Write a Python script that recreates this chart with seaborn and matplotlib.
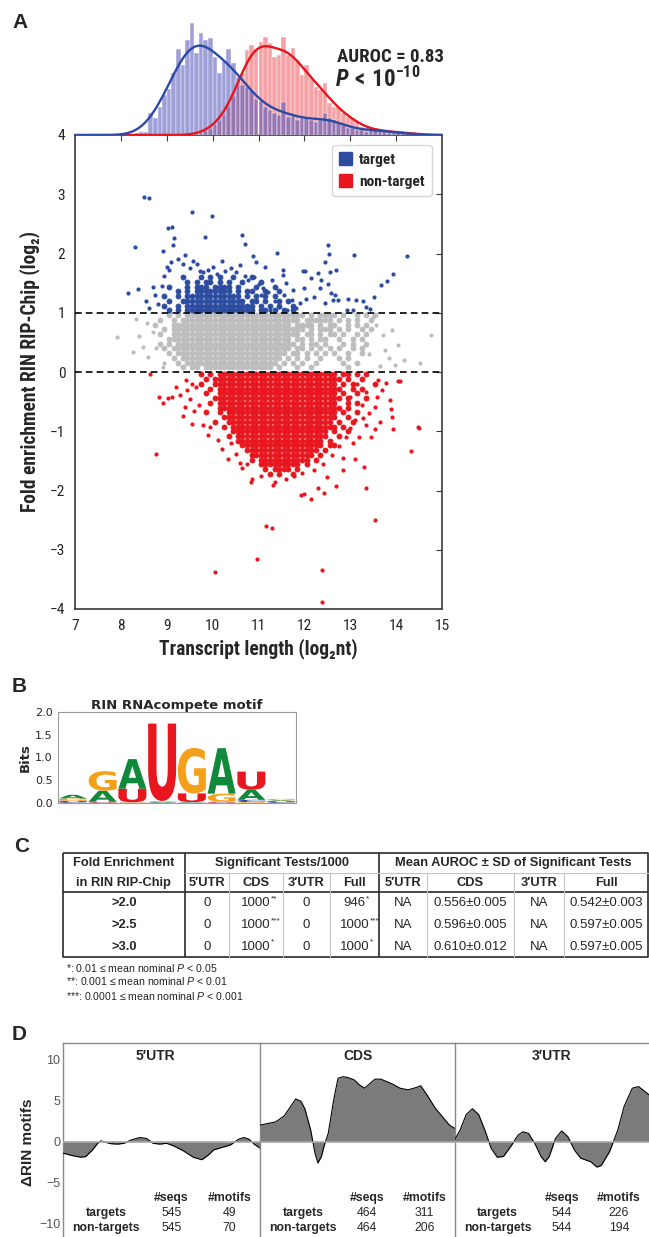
import numpy as np
import matplotlib
matplotlib.use("Agg")
import matplotlib.pyplot as plt
import seaborn as sns
from matplotlib import font_manager
from matplotlib.textpath import TextPath
from matplotlib.patches import PathPatch, Patch
from matplotlib.font_manager import FontProperties
from matplotlib.transforms import Affine2D

# ====================== DATA ======================
# ---- Panel A: marginal histograms (bin centres step 0.1, estimated counts) ----
target_bin_start, target_bin_end = 8.35, 14.25
target_counts = [2, 3, 3, 22, 17, 28, 40, 46, 62, 86, 70, 95, 112, 82, 102, 95, 97, 78, 62, 74,
                 86, 72, 58, 50, 48, 45, 36, 34, 28, 25, 22, 20, 33, 18, 19, 15, 17, 18, 15, 13,
                 15, 22, 17, 15, 12, 10, 7, 7, 5, 5, 3, 5, 7, 6, 3, 2, 3, 2, 2, 3]
nontarget_bin_start, nontarget_bin_end = 9.65, 14.45
nontarget_counts = [1, 2, 4, 6, 10, 14, 20, 28, 38, 50, 62, 85, 90, 86, 93, 98, 92, 78, 80, 98,
                    80, 87, 75, 60, 70, 57, 48, 45, 52, 32, 28, 28, 22, 18, 17, 13, 8, 7, 5, 6,
                    4, 5, 3, 3, 2, 3, 2, 2, 1]

# ---- Panel A: scatter, dense cores read as occupancy maps ('#' = points present) ----
RED_DENSE = [  # x from 9.65 step 0.1 ; y from -0.04 step -0.08
    ".#.#.##### ########## ########## #.##.#.#..",
    "..#.###### ########## ########## ##.#..#...",
    ".#..###### ########## ########## #.#.#....#",
    "...#.##### ########## ########## ##..#.#...",
    "..#..##### ########## ########## #.#..#....",
    "....###### ########## ########## ##.#...#..",
    "...#.##### ########## ########## #..#.#....",
    ".....##### ########## ########## ##.#......",
    "..#..#.### ########## ########## #.#..#....",
    "......#### ########## ########## #..#......",
    "....#..### ########## ########## .#..#.....",
    "......#.## ########## ########## #.#.......",
    "........## ########## #########. #..#......",
    ".......#.# ########## #########. .#........",
    ".........# ########## ########.# ..........",
    ".......... ########## ########.# #.........",
    ".......... .######### #######.#. ..........",
    ".......... ..######## ######.#.. ..........",
    ".......... ..#.###### #####.#... ..........",
    ".......... ....###### ###.#..... ..........",
    ".......... .....#.### #.#....... ..........",
    ".......... ......#.#. .#........ ..........",
]
GRAY_DENSE = [  # x from 8.65 step 0.1 ; y from 0.96 step -0.08
    "....#.#.## ########## ########## ####.#.### #.#..#.#.#",
    "..#..#.### ########## ########## ###.###### .#.#.#..#.",
    ".#...##### ########## ########## #.####.#.# #..#.#.#..",
    "...#.##### ########## ########## ####.#.### .#.#..#.#.",
    "..#..##### ########## ########## ###.##.#.# #.#..#.#..",
    "....###### ########## ########## #.##.#.##. .#..#.#...",
    "..#.#.#### ########## ########## ##.#.##.#. ..#.#..#..",
    "...#.##### ########## ########## #.##.#.#.# .#..#.#...",
    "....#.#### ########## ########## .##.#.#.#. #..#..#...",
    ".....#.### ########## #########. #.#.#..#.. .#.#......",
    "......#.## ########## ########.# .#.#..#... ..#..#....",
    ".......#.# #.######## #######.#. ..#..#.... ...#......",
]
BLUE_DENSE = [  # x from 8.85 step 0.1 ; y from 1.04 step +0.08
    "..#.#.#### ########## #.##.#.#.#",
    ".#..#.#### ########## #.#.#.#..#",
    "..#..##### #########. ##.#..#.#.",
    ".#..#.#### ########.# .#.#.#....",
    "....#.#.## ######.#.# #..#..#...",
    "..#...#.## #.####.#.. .#...#....",
    "......#.#. ##.#.#..#. ..#.......",
    ".....#...# .#.#..#... #.........",
]
# ---- Panel A: individual (sparse) points ----
target_x = [8.50, 8.61, 9.54, 9.98, 8.30, 9.03, 9.12, 9.16, 9.14, 8.91, 9.83, 10.63, 10.71, 10.87, 11.40,
            12.52, 12.54, 12.45, 13.08, 14.23, 13.93, 13.80, 13.68, 13.51, 8.16, 8.37, 11.96, 12.02,
            11.53, 11.53, 11.60, 12.68, 12.55, 12.30, 12.15, 12.37, 12.51, 12.59, 12.66, 12.74, 12.95,
            13.13, 13.28, 13.35, 13.42, 13.06, 12.92, 12.44, 12.22, 12.04, 11.90, 11.75, 11.72, 12.00,
            12.33, 12.62, 8.70, 8.75, 8.80, 8.90, 8.95, 9.00, 9.05, 9.10, 9.25, 9.35, 9.40, 9.50, 9.58,
            9.65, 9.72, 9.80, 9.90, 10.00, 10.10, 10.20, 10.28, 10.40, 10.50, 10.60, 10.70, 10.78, 10.90,
            11.00, 11.10, 11.20, 11.30, 11.35, 11.45, 11.55, 11.62, 11.82, 11.25, 11.15, 10.95, 11.05,
            8.62, 8.55]
target_y = [2.96, 2.94, 2.70, 2.64, 2.11, 2.43, 2.44, 2.27, 2.14, 2.04, 2.28, 2.32, 2.16, 1.96, 2.01,
            2.15, 2.00, 1.86, 1.97, 1.96, 1.65, 1.54, 1.47, 1.27, 1.33, 1.40, 1.71, 1.71,
            1.72, 1.64, 1.50, 1.72, 1.69, 1.67, 1.58, 1.55, 1.49, 1.33, 1.30, 1.21, 1.24,
            1.21, 1.19, 1.10, 1.07, 1.05, 1.05, 1.16, 1.27, 1.24, 1.16, 1.38, 1.21, 1.41,
            1.41, 1.21, 1.43, 1.30, 1.15, 1.45, 1.62, 1.78, 1.72, 1.85, 1.90, 1.82, 1.97, 1.75, 1.88,
            1.82, 1.70, 1.68, 1.72, 1.78, 1.65, 1.88, 1.70, 1.75, 1.68, 1.80, 1.62, 1.55, 1.60,
            1.48, 1.42, 1.35, 1.55, 1.20, 1.10, 1.30, 1.05, 1.08, 1.05, 1.78, 1.85, 1.30,
            1.08, 1.20]
middle_x = [7.92, 14.77, 14.51, 14.17, 13.85, 13.97, 13.90, 13.72, 13.75, 13.57, 13.50, 8.27, 8.32, 8.56,
            8.49, 8.70, 8.77, 8.92, 8.95, 8.40, 8.60, 14.05, 13.65, 13.40]
middle_y = [0.59, 0.62, 0.16, 0.20, 0.23, 0.12, 0.71, 0.62, 0.37, 0.79, 0.93, 0.34, 0.89, 0.82,
            0.43, 0.68, 0.40, 0.09, 0.15, 0.60, 0.25, 0.45, 0.10, 0.30]
nontarget_x = [8.76, 10.05, 10.96, 11.17, 11.30, 12.38, 12.38, 13.53, 13.34, 13.30, 14.32, 14.49, 13.93,
               13.53, 13.34, 13.46, 13.20, 13.10, 12.84, 12.70, 12.42, 12.15, 11.93, 12.00, 12.29, 12.50,
               11.32, 11.36, 10.83, 10.86, 10.33, 10.59, 10.12, 9.90, 9.79, 9.95,
               8.64, 8.83, 8.92, 9.03, 9.11, 9.35, 9.39, 9.28, 9.21, 9.43, 9.54, 9.64, 13.61, 13.79,
               14.04, 13.86, 13.58, 13.53, 13.90, 14.48, 13.35, 13.28, 13.10, 13.00,
               9.50, 9.55, 9.60, 9.70, 9.45, 10.20, 10.40, 10.50, 10.65, 10.75, 11.05, 11.60, 11.78,
               11.95, 12.20, 12.40, 12.60, 12.75, 12.90, 13.00, 12.95, 13.15, 13.25, 13.05, 12.85,
               13.70, 13.88, 13.40, 13.65, 14.08]
nontarget_y = [-1.38, -3.37, -3.15, -2.60, -2.63, -3.34, -3.88, -2.49, -1.95, -1.60, -1.33, -0.94, -0.96,
               -0.97, -0.90, -1.09, -1.09, -1.46, -1.65, -1.92, -2.04, -2.14, -2.07, -2.06, -1.96, -1.78,
               -1.91, -1.85, -1.85, -1.80, -1.46, -1.53, -1.15, -1.06, -0.89, -0.93,
               -0.04, -0.42, -0.53, -0.44, -0.42, -0.75, -0.59, -0.39, -0.25, -0.14, -0.87, -0.25, -0.14, -0.19,
               -0.16, -0.47, -0.42, -0.59, -0.76, -0.92, -0.33, -0.78, -0.81, -0.42,
               -0.45, -0.20, -0.65, -0.55, -0.30, -1.30, -1.20, -1.38, -1.62, -1.55, -1.75, -1.80, -1.76,
               -1.70, -1.66, -1.55, -1.40, -1.25, -1.10, -0.95, -0.60, -0.20, -0.55, -1.20, -1.45,
               -0.30, -0.62, -0.70, -0.85, -0.15]
auroc_text = "AUROC = 0.83"

# ---- Panel B: motif letter stacks (bottom -> top), bits ----
motif_stacks = [
    [("C", 0.02), ("U", 0.03), ("G", 0.05), ("A", 0.08)],
    [("C", 0.01), ("U", 0.02), ("A", 0.24), ("G", 0.43)],
    [("C", 0.005), ("G", 0.01), ("U", 0.30), ("A", 0.65)],
    [("C", 0.01), ("A", 0.015), ("G", 0.02), ("U", 1.70)],
    [("C", 0.01), ("A", 0.01), ("U", 0.19), ("G", 1.00)],
    [("C", 0.01), ("U", 0.015), ("G", 0.18), ("A", 1.00)],
    [("G", 0.02), ("C", 0.05), ("A", 0.22), ("U", 0.40)],
    [("C", 0.02), ("U", 0.02), ("A", 0.02), ("G", 0.03)],
]
letter_colors = {"A": "#10893b", "C": "#20409e", "G": "#f5a01a", "U": "#e8161e"}

# ---- Panel C: table ----
row_labels = [">2.0", ">2.5", ">3.0"]
sub_headers = ["5\u2032UTR", "CDS", "3\u2032UTR", "Full", "5\u2032UTR", "CDS", "3\u2032UTR", "Full"]
sig_tests = [["0", "1000", "0", "946"], ["0", "1000", "0", "1000"], ["0", "1000", "0", "1000"]]
sig_marks = [["", "**", "", "*"], ["", "***", "", "***"], ["", "*", "", "*"]]
auroc_vals = [["NA", "0.556\u00b10.005", "NA", "0.542\u00b10.003"],
              ["NA", "0.596\u00b10.005", "NA", "0.597\u00b10.005"],
              ["NA", "0.610\u00b10.012", "NA", "0.597\u00b10.005"]]
footnotes = ["*: 0.01 \u2264 mean nominal $P$ < 0.05",
             "**: 0.001 \u2264 mean nominal $P$ < 0.01",
             "***: 0.0001 \u2264 mean nominal $P$ < 0.001"]

# ---- Panel D: delta RIN motifs along relative position (%) ----
region_names = ["5\u2032UTR", "CDS", "3\u2032UTR"]
utr5_pos = [0, 4.8, 9, 11.6, 15, 17.6, 19.3, 21.8, 24.4, 27.8, 31, 34.6, 38.9, 42.3, 45.7, 49.1, 52.6,
            56, 61, 66.2, 70.5, 73.9, 76.5, 80.7, 85, 89.2, 91.8, 94.4, 97, 100]
utr5_val = [-1.4, -1.7, -1.9, -1.8, -1.0, -0.2, 0.1, -0.1, -0.25, -0.3, -0.2, 0.2, 0.5, 0.4, -0.2, -0.3,
            -0.2, -0.5, -1.1, -1.9, -2.2, -1.6, -1.0, -0.7, -0.4, 0.3, 0.5, 0.3, -0.3, -0.8]
cds_pos = [0, 3.8, 8, 12.3, 15.5, 18.3, 21, 23, 26, 28.2, 29.7, 31.5, 33, 35, 37.8, 40, 42.5, 45, 48.4,
           51, 53.7, 56.5, 59, 62, 65, 68, 71.8, 76, 80.3, 82.4, 85.6, 89.8, 94, 97.2, 100]
cds_val = [2.0, 2.2, 2.4, 3.1, 4.2, 5.2, 4.9, 4.0, 1.4, -1.4, -2.6, -1.8, -0.4, 1.0, 5.1, 7.7, 7.9, 7.8,
           7.5, 6.9, 6.5, 7.1, 7.6, 7.6, 7.3, 7.0, 6.5, 6.3, 6.6, 6.8, 5.7, 4.1, 2.9, 2.0, 1.6]
utr3_pos = [0, 2.6, 5.8, 9, 12.2, 15.4, 18.6, 21.8, 25, 29.3, 32.5, 35.1, 37.9, 41.1, 44.3, 46.5, 48.6,
            51.8, 55, 58.2, 61.5, 64.7, 70, 73.2, 75.4, 79.7, 83.9, 87.2, 91.4, 94.6, 97.9, 100]
utr3_val = [0.3, 1.4, 3.3, 4.0, 3.3, 1.4, -0.8, -1.9, -1.8, -0.4, 0.8, 1.2, 1.0, -0.2, -1.8, -2.45, -1.8,
            0.4, 1.3, 0.6, -1.0, -2.0, -2.45, -3.1, -2.9, -1.2, 1.4, 4.3, 6.5, 6.7, 6.1, 5.7]
n_seqs_targets = [545, 464, 544]
n_seqs_nontargets = [545, 464, 544]
n_motifs_targets = [49, 311, 226]
n_motifs_nontargets = [70, 206, 194]

# ====================== STYLE ======================
sns.set_style("white")
_names = {f.name for f in font_manager.fontManager.ttflist}
SANS = "Liberation Sans" if "Liberation Sans" in _names else "DejaVu Sans"
NARROW, NSCALE = SANS, 0.82
for cand, sc in (("Liberation Sans Narrow", 1.0), ("Roboto Condensed", 0.97),
                 ("DejaVu Sans Condensed", 0.85)):
    if cand in _names:
        NARROW, NSCALE = cand, sc
        break
plt.rcParams["font.family"] = [SANS, "DejaVu Sans"]
plt.rcParams["mathtext.fontset"] = "custom"
plt.rcParams["mathtext.rm"] = SANS
plt.rcParams["mathtext.it"] = SANS + ":italic"
plt.rcParams["mathtext.bf"] = NARROW + ":bold"
plt.rcParams["mathtext.bfit"] = NARROW + ":italic:bold"

BLUE = "#2c4c9f"
RED = "#e8161e"
GREY = "#bdbdbd"
HIST_BLUE = "#5252ba"
HIST_RED = "#e8161e"
SPINE = "#3a3a3a"
NFAM = [NARROW, SANS, "DejaVu Sans"]

W, H = 649, 1237
fig = plt.figure(figsize=(W / 100, H / 100), dpi=100)


def rect(l, t, r, b):
    return [l / W, 1 - b / H, (r - l) / W, (b - t) / H]


def occupancy(rows, x0, y0, dx, dy):
    xs, ys = [], []
    for i, row in enumerate(rows):
        for j, ch in enumerate(row.replace(" ", "")):
            if ch == "#":
                xs.append(x0 + j * dx)
                ys.append(y0 + i * dy)
    return xs, ys


# ====================== PANEL A ======================
AL, AR, AT, AB = 75, 442, 135, 609
ax = fig.add_axes(rect(AL, AT, AR, AB))
gx, gy = occupancy(GRAY_DENSE, 8.65, 0.96, 0.1, -0.08)
bx, by = occupancy(BLUE_DENSE, 8.85, 1.04, 0.1, 0.08)
rx, ry = occupancy(RED_DENSE, 9.65, -0.04, 0.1, -0.08)
dense_kw = dict(s=13, linewidth=0.6, legend=False, ax=ax)
sparse_kw = dict(s=9, linewidth=0, legend=False, ax=ax)
sns.scatterplot(x=gx, y=gy, color=GREY, edgecolor=GREY, **dense_kw)
sns.scatterplot(x=middle_x, y=middle_y, color=GREY, **sparse_kw)
sns.scatterplot(x=bx, y=by, color=BLUE, edgecolor=BLUE, **dense_kw)
sns.scatterplot(x=target_x, y=target_y, color=BLUE, **sparse_kw)
sns.scatterplot(x=rx, y=ry, color=RED, edgecolor=RED, **dense_kw)
sns.scatterplot(x=nontarget_x, y=nontarget_y, color=RED, **sparse_kw)
for yv in (1, 0):
    ax.axhline(yv, color="black", lw=1.2, ls=(0, (4, 2.5)), zorder=6)
ax.set_xlim(7, 15)
ax.set_ylim(-4, 4)
ax.set_xticks(range(7, 16))
ax.set_yticks(range(-4, 5))
ax.tick_params(direction="out", length=4, width=1, color=SPINE, labelsize=11.5 * NSCALE, pad=3)
for lbl in ax.get_xticklabels() + ax.get_yticklabels():
    lbl.set_fontfamily(NFAM)
for s in ax.spines.values():
    s.set_color(SPINE)
    s.set_linewidth(1.2)
sec_t = ax.secondary_xaxis("top")
sec_t.set_xticks(range(8, 15))
sec_t.tick_params(direction="in", length=4, labeltop=False, color=SPINE)
sec_t.spines["top"].set_visible(False)
sec_r = ax.secondary_yaxis("right")
sec_r.set_yticks(range(-3, 4))
sec_r.tick_params(direction="in", length=4, labelright=False, color=SPINE)
sec_r.spines["right"].set_visible(False)
lab_fp = FontProperties(family=NFAM, weight="bold", size=14.5 * NSCALE)
ax.set_xlabel("Transcript length (log\u2082nt)", fontproperties=lab_fp)
ax.set_ylabel("Fold enrichment RIN RIP-Chip (log\u2082)", fontproperties=lab_fp)
ax.xaxis.set_label_coords(0.5, -(638 - AB) / (AB - AT))
ax.yaxis.set_label_coords(-(AL - 40) / (AR - AL), 0.5)
leg = ax.legend(handles=[Patch(color=BLUE, label="target"), Patch(color=RED, label="non-target")],
                loc="upper right", bbox_to_anchor=(0.98, 0.985), frameon=True, fancybox=True,
                edgecolor="#cccccc", prop=FontProperties(family=NFAM, weight="bold", size=11.5 * NSCALE),
                handlelength=0.85, handleheight=0.85, handletextpad=0.45, borderpad=0.45,
                labelspacing=0.5, borderaxespad=0.2)
leg.get_frame().set_linewidth(1.0)

# marginal histograms
axh = fig.add_axes(rect(AL, 18, AR, AT))
t_centres = np.round(np.arange(target_bin_start, target_bin_end + 0.01, 0.1), 2)
n_centres = np.round(np.arange(nontarget_bin_start, nontarget_bin_end + 0.01, 0.1), 2)
sns.histplot(x=n_centres, weights=nontarget_counts, binwidth=0.1,
             binrange=(nontarget_bin_start - 0.05, nontarget_bin_end + 0.05),
             color=HIST_RED, alpha=0.40, edgecolor="white", linewidth=0.3, kde=True,
             kde_kws=dict(bw_method=0.28, cut=4), line_kws=dict(linewidth=1.7), ax=axh)
axh.lines[-1].set_color("#e8141c")
sns.histplot(x=t_centres, weights=target_counts, binwidth=0.1,
             binrange=(target_bin_start - 0.05, target_bin_end + 0.05),
             color=HIST_BLUE, alpha=0.55, edgecolor="white", linewidth=0.3, kde=True,
             kde_kws=dict(bw_method=0.26, cut=5), line_kws=dict(linewidth=1.7), ax=axh)
axh.lines[-1].set_color("#2a4aa8")
axh.set_xlim(7, 15)
axh.set_ylim(0, 117)
axh.axis("off")

# ====================== PANEL B ======================
axm = fig.add_axes(rect(58, 712, 296, 803))
fp_logo = FontProperties(family="DejaVu Sans", weight="bold")
for pos, stack in enumerate(motif_stacks):
    base = 0.0
    for letter, h in stack:
        tp = TextPath((0, 0), letter, size=1, prop=fp_logo)
        bb = tp.get_extents()
        wdt = 0.94
        tr = Affine2D().translate(-bb.x0, -bb.y0).scale(wdt / bb.width, h / bb.height) \
            .translate(pos - wdt / 2, base)
        axm.add_patch(PathPatch(tr.transform_path(tp), facecolor=letter_colors[letter],
                                edgecolor="none"))
        base += h
axm.set_xlim(-0.5, len(motif_stacks) - 0.5)
axm.set_ylim(0, 2.0)
axm.set_xticks([])
axm.set_yticks([0, 0.5, 1.0, 1.5, 2.0])
axm.set_yticklabels(["0.0", "0.5", "1.0", "1.5", "2.0"], fontfamily="DejaVu Sans", fontsize=8)
axm.tick_params(axis="y", direction="out", length=3, pad=1, color="#555555")
for s in axm.spines.values():
    s.set_color("#9a9a9a")
    s.set_linewidth(0.8)
axm.set_title("RIN RNAcompete motif", fontfamily="DejaVu Sans", fontweight="bold", fontsize=9.5, pad=2)
axm.set_ylabel("Bits", fontfamily="DejaVu Sans", fontweight="bold", fontsize=9.5, labelpad=2)

# ====================== PANEL D ======================
d_edges = [63, 260, 455, 649]
curves = [(utr5_pos, utr5_val), (cds_pos, cds_val), (utr3_pos, utr3_val)]
for k in range(3):
    axd = fig.add_axes(rect(d_edges[k], 1043, d_edges[k + 1], 1237))
    px, pv = curves[k]
    axd.fill_between(px, pv, 0, color="#7b7b7b", lw=0, interpolate=True, zorder=2)
    sns.lineplot(x=px, y=pv, color="black", lw=0.8, ax=axd, zorder=3)
    axd.axhline(0, color="#a8a8a8", lw=1.2, zorder=4)
    axd.set_xlim(0, 100)
    axd.set_ylim(-11.6, 12.0)
    axd.set_xticks([])
    axd.set_xlabel("")
    for side in ("bottom", "right"):
        axd.spines[side].set_visible(False)
    for side in ("top", "left"):
        axd.spines[side].set_color("#8a8a8a")
        axd.spines[side].set_linewidth(1.0)
    if k == 0:
        axd.set_yticks([10, 5, 0, -5, -10])
        axd.set_yticklabels(["10", "5", "0", "\u22125", "\u221210"], fontsize=9, color="#555555")
        axd.tick_params(axis="y", length=0, pad=2)
    else:
        axd.set_yticks([])

# ====================== OVERLAY (text, table) ======================
ov = fig.add_axes([0, 0, 1, 1])
ov.set_xlim(0, W)
ov.set_ylim(H, 0)
ov.axis("off")
ov.patch.set_alpha(0)

for lab, (lx, ly) in zip("ABCD", [(12, 22), (12, 687), (14, 847), (12, 1035)]):
    ov.text(lx, ly, lab, fontsize=15, fontweight="bold", va="center", ha="left")

ov.text(337, 57, auroc_text, fontproperties=FontProperties(family=NFAM, weight="bold", size=14 * NSCALE),
        va="center", ha="left")
ov.text(335, 79, r"$\mathbfit{P}\mathbf{\,<\,10^{-10}}$", fontsize=17 * NSCALE, va="center", ha="left")

# ---- table ----
TL, TR, TT, TB = 63, 648, 853, 957
col_edges = [63, 184.5, 229, 283, 330, 378.6, 427, 514, 564, 648]
col_centres = [(col_edges[i] + col_edges[i + 1]) / 2 for i in range(1, 9)]
hdr1_y, hdr2_y, hline_y, hbot_y = 863, 883, 873.3, 891.7
row_y = [903.5, 925.5, 946.5]
dark = dict(color="#2a2a2a", lw=1.2, solid_capstyle="butt")
light = dict(color="#c4c4c4", lw=0.8)
ov.plot([TL, TR, TR, TL, TL], [TT, TT, TB, TB, TT], **dark)
ov.plot([TL, TR], [hbot_y, hbot_y], **dark)
for xv in (col_edges[1], col_edges[5]):
    ov.plot([xv, xv], [TT, TB], **dark)
ov.plot([col_edges[1], TR], [hline_y, hline_y], **light)
for xv in (col_edges[2], col_edges[3], col_edges[4], col_edges[6], col_edges[7], col_edges[8]):
    ov.plot([xv, xv], [hline_y, TB], **light)
hb = dict(fontsize=9.3, fontweight="bold", ha="center", va="center")
ov.text((col_edges[0] + col_edges[1]) / 2, hdr1_y, "Fold Enrichment", **hb)
ov.text((col_edges[0] + col_edges[1]) / 2, hdr2_y, "in RIN RIP-Chip", **hb)
ov.text((col_edges[1] + col_edges[5]) / 2, hdr1_y, "Significant Tests/1000", **hb)
ov.text((col_edges[5] + col_edges[9]) / 2, hdr1_y, "Mean AUROC \u00b1 SD of Significant Tests", **hb)
for cx, sh in zip(col_centres, sub_headers):
    ov.text(cx, hdr2_y, sh, **hb)
fig.canvas.draw()
renderer = fig.canvas.get_renderer()
inv = ov.transData.inverted()
for r in range(3):
    ov.text((col_edges[0] + col_edges[1]) / 2, row_y[r], row_labels[r], **hb)
    for c in range(4):
        t = ov.text(col_centres[c], row_y[r], sig_tests[r][c], fontsize=9.5, ha="center", va="center")
        if sig_marks[r][c]:
            bbox = t.get_window_extent(renderer=renderer)
            x_right = inv.transform((bbox.x1, bbox.y1))[0]
            ov.text(x_right + 0.3, row_y[r] - 4.5, sig_marks[r][c], fontsize=6, ha="left", va="center")
    for c in range(4):
        ov.text(col_centres[4 + c], row_y[r], auroc_vals[r][c], fontsize=9.5, ha="center", va="center")
for fy, ft in zip([967.5, 981, 996], footnotes):
    ov.text(66, fy, ft, fontsize=7.6, ha="left", va="center", color="#222222")

# ---- panel D text ----
ov.text(28, 1142, "\u0394RIN motifs", rotation=90, fontsize=11, fontweight="bold", ha="center", va="center")
for k in range(3):
    l, r = d_edges[k], d_edges[k + 1]
    wdt = r - l
    ov.text(l + 0.47 * wdt if k == 0 else l + 0.5 * wdt, 1056, region_names[k], fontsize=10,
            fontweight="bold", ha="center", va="center")
    xl, xs, xm = l + 0.22 * wdt, l + 0.55 * wdt, l + 0.845 * wdt
    b9 = dict(fontsize=8.8, ha="center", va="center")
    ov.text(xs, 1198, "#seqs", fontweight="bold", **b9)
    ov.text(xm, 1198, "#motifs", fontweight="bold", **b9)
    ov.text(xl, 1213, "targets", fontweight="bold", **b9)
    ov.text(xl, 1228, "non-targets", fontweight="bold", **b9)
    ov.text(xs, 1213, str(n_seqs_targets[k]), **b9)
    ov.text(xs, 1228, str(n_seqs_nontargets[k]), **b9)
    ov.text(xm, 1213, str(n_motifs_targets[k]), **b9)
    ov.text(xm, 1228, str(n_motifs_nontargets[k]), **b9)

fig.savefig("out.png", dpi=100)
